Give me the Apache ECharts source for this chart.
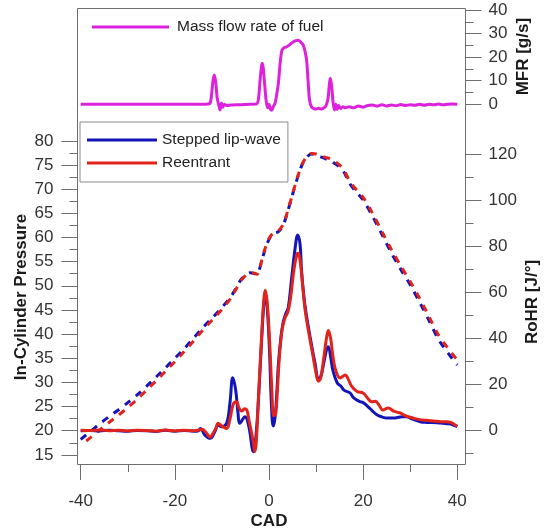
<!DOCTYPE html>
<html><head><meta charset="utf-8">
<script src="https://cdn.jsdelivr.net/npm/echarts@6/dist/echarts.min.js"></script>
<style>html,body{margin:0;padding:0;background:#fff}#c{width:548px;height:531px}</style>
</head><body><div id="c"></div>
<script>
// ---- data ----
const cadP = [-40,-38,-36,-34,-32,-30,-28,-26,-24,-22,-20,-18,-16,-14,-12,-10,-8,-7,-6,-5,-4,-3,-2.5,-2,-1,0,1,2,3,4,5,6,7,8,9,10,11,12,13,14,15,16,17,18,19,20,22,24,26,28,30,32,34,36,38,40];
const pressStepped = [18.2,19.8,21.4,22.9,24.3,25.8,27.4,29.2,31.1,33.0,35.0,37.0,39.2,41.4,43.4,45.5,47.9,49.5,51.2,52.2,52.7,52.5,52.3,53.5,57.0,59.6,60.8,61.2,62.5,65.5,68.9,72.2,75.0,76.6,77.3,77.1,76.7,76.3,76.0,75.3,74.6,73.4,71.4,70.0,68.9,67.8,64.4,60.6,56.8,53.4,50.2,46.6,42.8,38.9,36.1,33.6];
const pressReentrant = [17.0,18.5,20.1,21.7,23.2,24.8,26.5,28.4,30.3,32.3,34.3,36.4,38.6,40.9,43.0,45.1,47.6,49.3,51.0,52.1,52.7,52.6,52.4,53.6,57.2,59.8,61.0,61.4,62.7,65.6,69.0,72.3,75.1,76.7,77.4,77.3,76.9,76.6,76.3,75.7,75.0,73.8,71.9,70.5,69.4,68.3,65.0,61.2,57.5,54.1,50.9,47.4,43.6,39.8,37.1,34.6];

const cadRStepped = [-40,-38,-36,-34,-32,-30,-28,-26,-24,-22,-20,-18,-16,-15,-14.6,-13.6,-12.5,-11.5,-10.8,-10.05,-9.0,-8.3,-7.7,-7.1,-6.6,-6.2,-5.1,-4.3,-3.3,-2.8,-2.2,-1.6,-1.1,-0.8,-0.4,0.1,0.5,0.9,1.3,1.7,2.0,2.5,3.0,3.6,4.1,4.8,5.5,6.1,6.6,6.9,7.6,8.7,9.8,10.5,11.0,11.6,12.2,12.6,13.1,13.6,14.5,15.2,16.0,17.2,18.0,19.3,20.0,21.0,22.0,23.0,24.0,25.0,26.4,27.5,28.5,29.3,30.5,32.1,33.5,35.7,37.0,38.0,39.0,40.0];
const rohrStepped = [0,0.1,-0.1,0.2,0,-0.2,0.1,0,-0.3,0.2,-0.2,0.1,-0.2,0,1.0,-1.9,-3.3,-0.4,2.5,1.7,3.2,12,23.0,18,8,3.2,6.1,2,-9.1,-3,15,38,55,59,54,35,12,2.0,6,18,29,40,47,51,53.5,66,78.5,85,81,70,55,41,29,22.5,23.5,29,35,36.5,32,26,20.7,19.5,17.5,16.4,14.2,12.6,12.2,10.5,8.5,6.8,6.0,5.5,5.5,5.8,6.1,6.0,5.0,3.9,3.6,3.5,3.2,3.0,2.6,1.8];

const cadRReentrant = [-40,-38,-36,-34,-32,-30,-28,-26,-24,-22,-20,-18,-16,-15,-14.2,-13.3,-12.5,-12.0,-11.3,-10.8,-10.0,-9.0,-8.3,-7.6,-6.9,-6.4,-5.8,-5.2,-4.7,-4.2,-3.4,-3.0,-2.7,-2.2,-1.6,-1.1,-0.8,-0.4,0.1,0.6,1.0,1.4,1.8,2.2,2.8,3.4,4.0,4.6,5.3,5.9,6.2,6.6,7.1,7.7,8.5,9.3,10.0,10.5,11.0,11.6,12.2,12.6,13.1,13.6,14.2,15.1,15.6,16.2,16.8,17.5,18.7,20.0,21.0,21.8,22.6,23.4,24.2,25.3,26.5,27.8,29.0,30.6,32.0,33.5,35.0,36.5,37.8,38.6,39.3,40.0];
const rohrReentrant = [0.2,0.1,0.3,0,0.2,-0.1,0.2,0.1,-0.2,0.3,-0.1,0.2,0,0.2,0.6,-1,-2.8,-1.5,1,3.2,2.0,1.0,5,11.5,12.6,10,8.5,9.5,9.0,4,-4,-9.1,-5,16,40,57,61,56,40,18,6.5,7,18,32,44,49,51.5,58,70,76.5,77,74,64,52,42,33,25,21.5,23,31,40,43.5,40,32,26,22.9,23.5,24.2,22.5,19.5,17,16.4,14,12.6,12.8,11,9,9.9,8.5,7.7,6.5,5.5,4.8,4.5,4.2,3.9,3.9,3.6,2.8,1.9];

const cadM = [-40,-30,-20,-14,-13,-12.5,-12.2,-11.9,-11.6,-11.3,-11.0,-10.7,-10.4,-10.1,-9.8,-9.5,-9,-8,-6,-4,-2.6,-2.2,-1.9,-1.6,-1.4,-1.2,-0.9,-0.6,-0.3,0,0.3,0.6,0.9,1.3,1.7,2.0,2.3,2.7,3.2,3.8,4.5,5.2,5.7,6.2,6.7,7.3,7.7,8.0,8.3,8.6,9.0,9.4,10,10.5,11,11.5,12.0,12.5,12.8,13.0,13.3,13.6,13.9,14.2,14.5,14.8,15.2,15.7,16.2,17,18,19,20,21,22,23,24,25,26,27,28,29,30,31,32,33,34,35,36,37,38,39,40];
const mfr = [0,0,0,0,0.1,0.5,4,10,12.4,9,2.5,0,-2.4,0.5,-1.2,0,-0.5,-0.3,-0.2,0,0.2,3,10,16,17.4,15,8,1.5,-1.5,0,-2,-2.5,-1,0.5,5,9,16,22.5,24,24.4,25.5,26.5,27,27.2,26.5,25,22,18.5,10,2,-1,-1.7,-2,-1.7,-2,-1.7,-1,2,8,11,8,1,-2.4,0,-2.2,-0.5,-1.8,-1,-1.5,-1.0,-1.5,-0.7,-1.2,-0.5,-0.3,-0.8,-0.2,-0.7,-0.3,-0.6,-0.1,-0.5,-0.2,-0.4,0,-0.4,0,-0.2,0.1,-0.2,0,0.1,0];

const xTicks = [-40,-20,0,20,40];
const pTicks = [15,20,25,30,35,40,45,50,55,60,65,70,75,80];
const pMinor = [17.5,22.5,27.5,32.5,37.5,42.5,47.5,52.5,57.5,62.5,67.5,72.5,77.5];
const rTicks = [0,20,40,60,80,100,120];
const rMinor = [-10,10,30,50,70,90,110];
const mTicks = [0,10,20,30,40];
const mMinor = [5,15,25,35];

const BLUE = '#1414b8', RED = '#e2231c', MAG = '#dc22dc';
const FONT = 'Liberation Sans, Arial, sans-serif';
const AX = '#6e6e6e';

function zip(a, b) { return a.map((v, i) => [v, b[i]]); }

const chart = echarts.init(document.getElementById('c'), null, {renderer: 'canvas'});

const L = 80.7, R = 548 - 457.3;
const NOLINE = {show: false, onZero: false};
function yMajor(extra) {
  return Object.assign({
    type: 'value', scale: true,
    axisLine: NOLINE, splitLine: {show: false},
    nameLocation: 'middle', nameMoveOverlap: false,
    nameTextStyle: {fontFamily: FONT, fontSize: 17, fontWeight: 'bold', color: '#1a1a1a'}
  }, extra);
}
function yMinor(extra, vals) {
  return Object.assign({
    type: 'value', scale: true,
    axisLine: NOLINE, splitLine: {show: false},
    axisLabel: {show: false},
    axisTick: {show: true, length: 8, customValues: vals, lineStyle: {color: AX}}
  }, extra);
}
const G = {outerBoundsMode: 'none', containLabel: false};

chart.setOption({
  animation: false,
  backgroundColor: '#fff',
  grid: [
    Object.assign({left: L, right: R, top: 130, bottom: 67}, G),
    Object.assign({left: L, right: R, top: 140, bottom: 67}, G),
    Object.assign({left: L, right: R, top: 9, bottom: 531 - 104.3}, G),
    Object.assign({left: 77.5, right: 82.5, top: 8.5, bottom: 66.5, show: true, borderColor: AX, borderWidth: 1, backgroundColor: 'transparent'}, G)
  ],
  legend: [
    {
      data: ['Mass flow rate of fuel'], left: 92, top: 19, padding: 0,
      icon: 'rect', itemWidth: 77, itemHeight: 3,
      textStyle: {fontFamily: FONT, fontSize: 15.5, color: '#222', lineHeight: 16, padding: [0, 0, 0, 3]}
    },
    {
      data: ['Stepped lip-wave', 'Reentrant'], orient: 'vertical', left: 80, top: 122,
      padding: [10, 7, 11, 7], borderColor: '#8a8a8a', borderWidth: 1, itemGap: 7,
      icon: 'rect', itemWidth: 70, itemHeight: 3,
      textStyle: {fontFamily: FONT, fontSize: 15.5, color: '#222', lineHeight: 16}
    }
  ],
  xAxis: [
    {
      gridIndex: 0, type: 'value', min: -40, max: 40, interval: 20,
      axisLine: NOLINE, splitLine: {show: false},
      axisTick: {show: true, length: 16, lineStyle: {color: AX}},
      minorTick: {show: true, splitNumber: 2, length: 8, lineStyle: {color: AX}},
      axisLabel: {customValues: xTicks, margin: 29, fontFamily: FONT, fontSize: 17, color: '#333'},
      name: 'CAD', nameLocation: 'middle', nameGap: 49, nameMoveOverlap: false,
      nameTextStyle: {fontFamily: FONT, fontSize: 17, fontWeight: 'bold', color: '#1a1a1a'}
    },
    {gridIndex: 1, type: 'value', min: -40, max: 40, show: false, axisLine: NOLINE},
    {gridIndex: 2, type: 'value', min: -40, max: 40, show: false, axisLine: NOLINE},
    {gridIndex: 3, type: 'value', min: 0, max: 1, show: false, axisLine: NOLINE}
  ],
  yAxis: [
    yMajor({
      gridIndex: 0, position: 'left', offset: L - 77.5, min: 13.106, max: 82.256,
      axisTick: {show: true, length: 16, customValues: pTicks, lineStyle: {color: AX}},
      axisLabel: {customValues: pTicks, margin: 24, fontFamily: FONT, fontSize: 17, color: '#333'},
      name: 'In-Cylinder Pressure', nameGap: 48
    }),
    yMinor({gridIndex: 0, position: 'left', offset: L - 77.5, min: 13.106, max: 82.256}, pMinor),
    yMajor({
      gridIndex: 1, position: 'right', offset: 465.5 - 457.3, min: -14.46, max: 126.23,
      axisTick: {show: true, length: 16, customValues: rTicks, lineStyle: {color: AX}},
      axisLabel: {customValues: rTicks, margin: 23, fontFamily: FONT, fontSize: 17, color: '#333'},
      name: 'RoHR [J/°]', nameGap: 58
    }),
    yMinor({gridIndex: 1, position: 'right', offset: 465.5 - 457.3, min: -14.46, max: 126.23}, rMinor),
    yMajor({
      gridIndex: 2, position: 'right', offset: 465.5 - 457.3, min: 0, max: 40.42,
      axisTick: {show: true, length: 16, customValues: mTicks, lineStyle: {color: AX}},
      axisLabel: {customValues: mTicks, margin: 23, fontFamily: FONT, fontSize: 17, color: '#333'},
      name: 'MFR [g/s]', nameGap: 49
    }),
    yMinor({gridIndex: 2, position: 'right', offset: 465.5 - 457.3, min: 0, max: 40.42}, mMinor),
    {gridIndex: 3, type: 'value', min: 0, max: 1, show: false, axisLine: NOLINE}
  ],
  series: [
    {
      name: 'Stepped lip-wave pressure', type: 'line', xAxisIndex: 0, yAxisIndex: 0,
      data: zip(cadP, pressStepped), symbol: 'none', smooth: 0.3, z: 2,
      color: BLUE, lineStyle: {color: BLUE, width: 3, type: [7, 7]}
    },
    {
      name: 'Reentrant pressure', type: 'line', xAxisIndex: 0, yAxisIndex: 0,
      data: zip(cadP, pressReentrant), symbol: 'none', smooth: 0.3, z: 3,
      color: RED, lineStyle: {color: RED, width: 3, type: [7, 7], dashOffset: 7}
    },
    {
      name: 'Stepped lip-wave', type: 'line', xAxisIndex: 1, yAxisIndex: 2,
      data: zip(cadRStepped, rohrStepped), symbol: 'none', smooth: 0.4, z: 4,
      color: BLUE, itemStyle: {color: BLUE}, lineStyle: {color: BLUE, width: 3}
    },
    {
      name: 'Reentrant', type: 'line', xAxisIndex: 1, yAxisIndex: 2,
      data: zip(cadRReentrant, rohrReentrant), symbol: 'none', smooth: 0.4, z: 5,
      color: RED, itemStyle: {color: RED}, lineStyle: {color: RED, width: 3}
    },
    {
      name: 'Mass flow rate of fuel', type: 'line', xAxisIndex: 2, yAxisIndex: 4,
      data: zip(cadM, mfr), symbol: 'none', smooth: 0.3, clip: false, z: 4,
      color: MAG, itemStyle: {color: MAG}, lineStyle: {color: MAG, width: 3}
    }
  ]
});
</script></body></html>
